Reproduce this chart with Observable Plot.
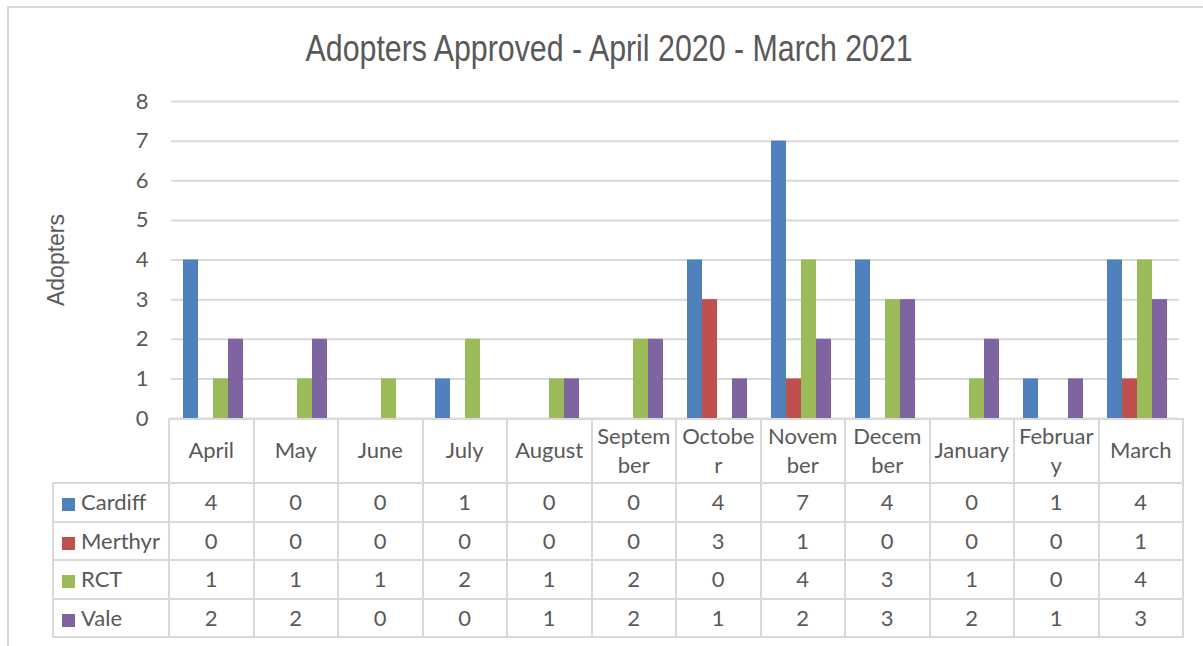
<!DOCTYPE html>
<html>
<head>
<meta charset="utf-8">
<script src="https://cdn.jsdelivr.net/npm/d3@7"></script>
<script src="https://cdn.jsdelivr.net/npm/@observablehq/plot@0.6"></script>
<style>
  html, body { margin: 0; padding: 0; background: #fff; }
  #wrap { position: relative; width: 1203px; height: 646px; overflow: hidden; background: #fff; }
  #frame { position: absolute; left: 7px; top: 6px; width: 1300px; height: 800px; border: 2px solid #d9d9d9; box-sizing: border-box; }
  #title { position: absolute; left: 7px; right: -7px; top: 27px; text-align: center; font-family: "Liberation Sans", Arial, sans-serif; font-size: 37px; line-height: 44px; color: #595959; white-space: nowrap; transform: scaleX(0.82); transform-origin: 605px 0; }
  #chart { position: absolute; left: 0; top: 85px; }
  #chart svg { overflow: visible; }
  #tbl { position: absolute; left: 52px; top: 418px; border-collapse: collapse; table-layout: fixed; font-family: Lato, "Open Sans", sans-serif; font-size: 22px; color: #595959; }
  #tbl td { border: 2px solid #d9d9d9; text-align: center; padding: 0; box-sizing: border-box; }
  #tbl tr.head td { height: 64px; line-height: 29px; padding-bottom: 3px; }
  #tbl tr.row td { height: 38.5px; line-height: 36px; }
  #tbl td.blank { border-top: none; border-left: none; border-bottom: 2px solid #d9d9d9; }
  #tbl td.name { text-align: left; padding-left: 8px; white-space: nowrap; }
  .sw { display: inline-block; width: 13px; height: 13px; margin-right: 6px; vertical-align: -1px; }
</style>
</head>
<body>
<div id="wrap">
  <div id="frame"></div>
  <div id="title"></div>
  <div id="chart"></div>
  <table id="tbl"></table>
</div>
<script>
const titleText = "Adopters Approved - April 2020 - March 2021";
const yLabel = "Adopters";
const months = ["April","May","June","July","August","September","October","November","December","January","February","March"];
const monthLabels = ["April","May","June","July","August","Septem\nber","Octobe\nr","Novem\nber","Decem\nber","January","Februar\ny","March"];
const seriesNames = ["Cardiff","Merthyr","RCT","Vale"];
const seriesColors = ["#4F81BD","#C0504D","#9BBB59","#8064A2"];
const cardiff = [4,0,0,1,0,0,4,7,4,0,1,4];
const merthyr = [0,0,0,0,0,0,3,1,0,0,0,1];
const rct     = [1,1,1,2,1,2,0,4,3,1,0,4];
const vale    = [2,2,0,0,1,2,1,2,3,2,1,3];
const yTicks = [0,1,2,3,4,5,6,7,8];

const seriesValues = [cardiff, merthyr, rct, vale];
const data = [];
months.forEach((m, i) => seriesNames.forEach((s, j) => data.push({month: m, series: s, value: seriesValues[j][i]})));

document.getElementById("title").textContent = titleText;

const chart = Plot.plot({
  width: 1203,
  height: 360,
  marginTop: 16,
  marginBottom: 27,
  marginLeft: 168,
  marginRight: 21,
  style: {fontFamily: "Lato, 'Open Sans', sans-serif", fontSize: "22px", color: "#595959", overflow: "visible"},
  fx: {domain: months, padding: 0, axis: null},
  x: {domain: seriesNames, paddingInner: 0, paddingOuter: 0.75, axis: null},
  y: {domain: [0, 8], ticks: yTicks},
  color: {domain: seriesNames, range: seriesColors},
  marks: [
    Plot.gridY(yTicks, {stroke: "#d9d9d9", strokeOpacity: 1, strokeWidth: 2}),
    Plot.axisY(yTicks, {tickSize: 0, tickPadding: 23, fontSize: 22, fill: "#595959", label: null}),
    Plot.axisY({ticks: [], tickSize: 0, label: yLabel, labelAnchor: "center", labelArrow: "none", labelOffset: 124, fontSize: 23, fontFamily: "'Liberation Sans', Arial, sans-serif", fill: "#595959"}),
    Plot.barY(data, {fx: "month", x: "series", y: "value", fill: "series", inset: 0})
  ]
});
document.getElementById("chart").appendChild(chart);

// data table below the chart
const tbl = d3.select("#tbl");
const colgroup = tbl.append("colgroup");
colgroup.append("col").style("width", "116px");
months.forEach(() => colgroup.append("col").style("width", (1014 / 12) + "px"));
const head = tbl.append("tr").attr("class", "head");
head.append("td").attr("class", "blank");
monthLabels.forEach(l => head.append("td").html(l.split("\n").join("<br>")));
seriesNames.forEach((s, j) => {
  const tr = tbl.append("tr").attr("class", "row");
  const nameCell = tr.append("td").attr("class", "name");
  nameCell.append("span").attr("class", "sw").style("background", seriesColors[j]);
  nameCell.append("span").text(s);
  seriesValues[j].forEach(v => tr.append("td").text(v));
});
</script>
</body>
</html>
